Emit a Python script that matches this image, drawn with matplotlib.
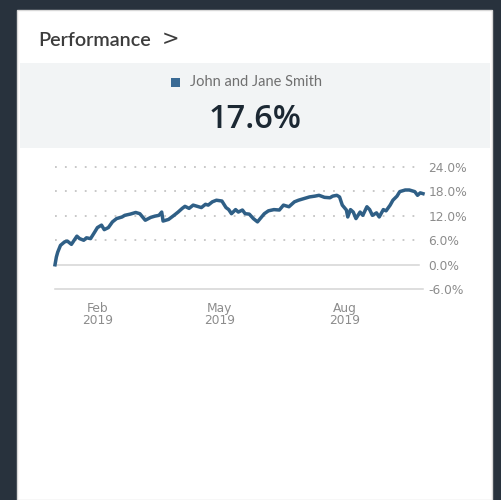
import matplotlib.pyplot as plt
import matplotlib.dates as mdates
from matplotlib.patches import Rectangle
import pandas as pd

# Performance series (cumulative return, %)
dates = ["2019-01-01", "2019-01-02", "2019-01-03", "2019-01-05", "2019-01-08",
         "2019-01-10", "2019-01-13", "2019-01-17", "2019-01-19", "2019-01-22",
         "2019-01-24", "2019-01-27", "2019-01-30", "2019-02-01", "2019-02-04",
         "2019-02-06", "2019-02-09", "2019-02-12", "2019-02-15", "2019-02-19",
         "2019-02-21", "2019-02-25", "2019-03-01", "2019-03-04", "2019-03-08",
         "2019-03-12", "2019-03-15", "2019-03-18", "2019-03-20", "2019-03-21",
         "2019-03-25", "2019-03-29", "2019-04-01", "2019-04-04", "2019-04-06",
         "2019-04-09", "2019-04-12", "2019-04-16", "2019-04-18", "2019-04-21",
         "2019-04-23", "2019-04-26", "2019-04-29", "2019-05-03", "2019-05-06",
         "2019-05-08", "2019-05-10", "2019-05-13", "2019-05-15", "2019-05-18",
         "2019-05-20", "2019-05-23", "2019-05-26", "2019-05-29", "2019-05-31",
         "2019-06-03", "2019-06-06", "2019-06-10", "2019-06-14", "2019-06-17",
         "2019-06-21", "2019-06-25", "2019-06-28", "2019-07-02", "2019-07-06",
         "2019-07-10", "2019-07-13", "2019-07-17", "2019-07-21", "2019-07-23",
         "2019-07-26", "2019-07-28", "2019-07-30", "2019-08-02", "2019-08-03",
         "2019-08-05", "2019-08-07", "2019-08-09", "2019-08-12", "2019-08-14",
         "2019-08-17", "2019-08-19", "2019-08-21", "2019-08-24", "2019-08-26",
         "2019-08-29", "2019-08-31", "2019-09-03", "2019-09-05", "2019-09-08",
         "2019-09-10", "2019-09-14", "2019-09-17", "2019-09-21", "2019-09-23",
         "2019-09-25", "2019-09-27"]
returns = [0.0, 1.9, 3.1, 4.75, 5.6,
           5.8, 5.0, 7.0, 6.4, 6.0,
           6.6, 6.4, 8.0, 9.1, 9.7,
           8.6, 9.1, 10.5, 11.3, 11.7,
           12.1, 12.4, 12.8, 12.5, 10.9,
           11.6, 11.9, 12.1, 12.9, 10.7,
           11.1, 12.1, 12.9, 13.8, 14.3,
           13.8, 14.6, 14.2, 14.0, 14.8,
           14.6, 15.4, 15.8, 15.6, 14.0,
           13.5, 12.5, 13.5, 12.9, 13.4,
           12.5, 12.4, 11.3, 10.5, 11.3,
           12.5, 13.2, 13.5, 13.4, 14.6,
           14.2, 15.4, 15.8, 16.2, 16.6,
           16.8, 17.0, 16.5, 16.4, 16.8,
           17.0, 16.6, 14.6, 13.4, 11.7,
           13.5, 12.9, 11.3, 12.9, 12.1,
           14.2, 13.5, 12.1, 12.7, 11.7,
           13.5, 13.2, 14.6, 15.8, 16.8,
           17.9, 18.3, 18.3, 17.9, 17.0,
           17.6, 17.4]

series_name = "John and Jane Smith"
headline = "17.6%"
tick_dates = ["2019-02-01", "2019-05-01", "2019-08-01"]
tick_labels = ["Feb\n2019", "May\n2019", "Aug\n2019"]
y_ticks = [-6, 0, 6, 12, 18, 24]
y_labels = ["-6.0%", "0.0%", "6.0%", "12.0%", "18.0%", "24.0%"]

W, H = 502, 500
line_color = "#2f5f86"
label_gray = "#8c8c8c"


def fx(x):
	return x / W


def fy(y):
	return 1 - y / H


fig = plt.figure(figsize=(W / 100, H / 100), dpi=100)
fig.patch.set_facecolor("#28323d")

# Card and header band (kept behind the chart axes)
fig.patches.append(Rectangle((fx(17), 0), fx(492) - fx(17), fy(10),
							 transform=fig.transFigure, facecolor="white",
							 edgecolor="#d8d8d8", linewidth=1.0, zorder=-2))
fig.patches.append(Rectangle((fx(20), fy(148)), fx(490) - fx(20), fy(63) - fy(148),
							 transform=fig.transFigure, facecolor="#f2f4f5",
							 edgecolor="none", zorder=-1))

fig.text(fx(38), fy(40), "Performance", fontsize=14.2, family="Lato",
		 fontweight="semibold", color="#3c3c3c", va="center", ha="left")
fig.text(fx(162), fy(39), ">", fontsize=15, family="DejaVu Sans",
		 color="#3c3c3c", va="center", ha="left")

# Legend marker and name
fig.patches.append(Rectangle((fx(171), fy(87)), fx(9), fy(0) - fy(9),
							 transform=fig.transFigure, facecolor="#3a6a94",
							 edgecolor="none"))
fig.text(fx(190), fy(82), series_name, fontsize=10.5, family="Lato",
		 color="#707070", va="center", ha="left")
fig.text(fx(255), fy(119), headline, fontsize=23.5, family="Open Sans",
		 fontweight="semibold", color="#1c2833", va="center", ha="center")

# Chart
ax = fig.add_axes([fx(55), fy(289.3), fx(423) - fx(55), fy(166.7) - fy(289.3)])
ax.set_zorder(2)
ax.set_facecolor("none")
x = pd.to_datetime(dates)
ax.set_xlim(pd.Timestamp("2019-01-01"), pd.Timestamp("2019-09-27"))
ax.set_ylim(-6, 24)

# gridlines: dotted above zero, solid at zero and the bottom
for v in y_ticks:
	if v > 0:
		ax.axhline(v, color="#c4c4c4", linewidth=1.3, linestyle=(0, (1, 4.5)),
				   xmax=0.99, zorder=1, clip_on=False)
	else:
		ax.axhline(v, color="#d4d4d4", linewidth=1.1, xmax=0.99 if v == 0 else 1.0,
				   zorder=1, clip_on=False)

ax.plot(x, returns, color=line_color, linewidth=2.5, solid_joinstyle="round",
		zorder=3, clip_on=False)

for s in ax.spines.values():
	s.set_visible(False)

ax.yaxis.tick_right()
ax.set_yticks(y_ticks)
ax.set_yticklabels(y_labels)
ax.set_xticks(pd.to_datetime(tick_dates))
ax.set_xticklabels(tick_labels, linespacing=0.95)
ax.tick_params(axis="y", length=0, pad=4, labelsize=8.8, labelcolor=label_gray)
ax.tick_params(axis="x", length=0, pad=9, labelsize=8.8, labelcolor=label_gray)

plt.savefig("out.png", dpi=100, facecolor=fig.get_facecolor())
